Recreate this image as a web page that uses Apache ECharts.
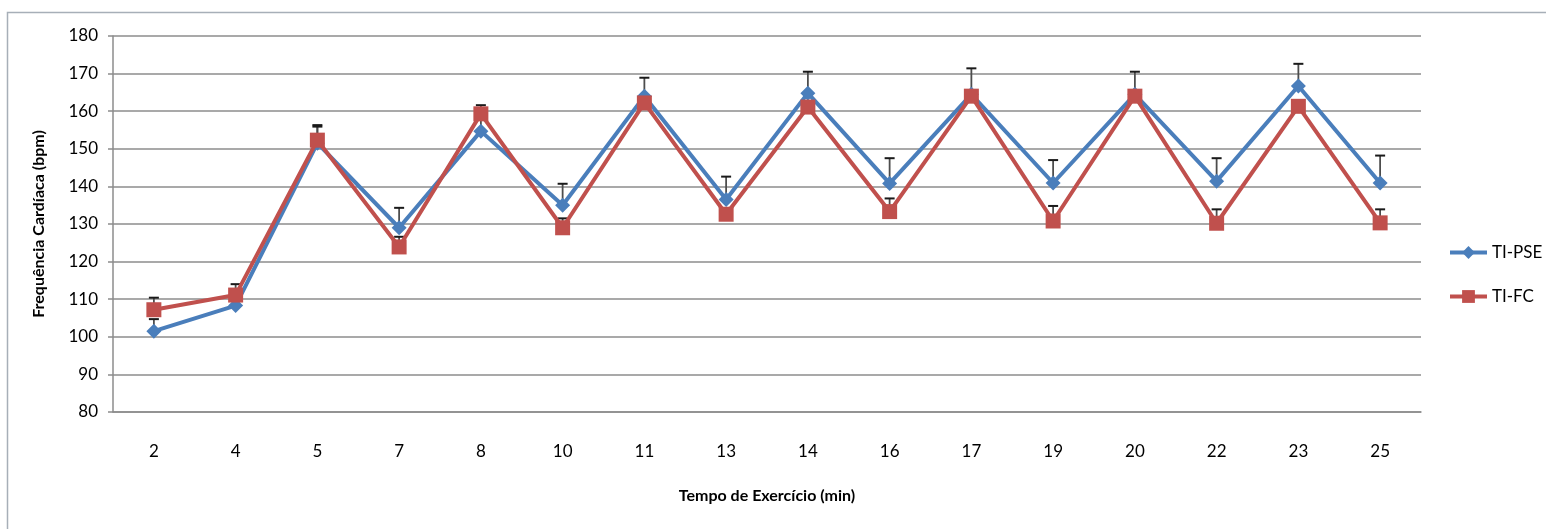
<!DOCTYPE html>
<html>
<head>
<meta charset="utf-8">
<script src="https://cdn.jsdelivr.net/npm/echarts@6/dist/echarts.min.js"></script>
<style>
  html, body { margin: 0; padding: 0; background: #fff; }
  #chart { width: 1546px; height: 529px; }
</style>
</head>
<body>
<div id="chart"></div>
<script>
// Exercise time (min) on the category axis
const categories = ['2', '4', '5', '7', '8', '10', '11', '13', '14', '16', '17', '19', '20', '22', '23', '25'];

// Mean heart rate (bpm) per protocol
const tiPse = [101.5, 108.3, 151.5, 129.0, 154.7, 135.0, 164.0, 136.5, 164.8, 140.8, 164.5, 140.9, 164.5, 141.4, 166.7, 140.9];
const tiFc  = [107.2, 111.1, 152.3, 123.9, 159.3, 129.0, 162.2, 132.6, 161.1, 133.3, 164.0, 130.8, 164.0, 130.2, 161.3, 130.3];

// Standard deviation (plus side only)
const tiPseSd = [3.2, 3.0, 4.8, 5.3, 3.0, 5.7, 4.9, 6.1, 5.7, 6.7, 6.9, 6.1, 6.0, 6.1, 5.9, 7.3];
const tiFcSd  = [3.2, 2.9, 3.6, 2.7, 2.3, 2.5, 1.5, 1.5, 1.5, 3.5, 1.5, 4.0, 1.5, 3.7, 1.5, 3.6];

const yTicks = { min: 80, max: 180, interval: 10 };

const BLUE = '#4a7ebb';
const RED = '#c0504d';
const FONT = "Lato, 'Open Sans', sans-serif";

function errorBarSeries(name, means, sds, z) {
  return {
    type: 'custom',
    name: name + ' SD',
    z: z,
    silent: true,
    data: means.map((m, i) => [i, m, m + sds[i]]),
    renderItem: function (params, api) {
      const base = api.coord([api.value(0), api.value(1)]);
      const top = api.coord([api.value(0), api.value(2)]);
      const half = 5;
      return {
        type: 'group',
        children: [
          { type: 'line', shape: { x1: base[0], y1: base[1], x2: top[0], y2: top[1] },
            style: { stroke: '#4d4d4d', lineWidth: 1.8 } },
          { type: 'line', shape: { x1: top[0] - half, y1: top[1], x2: top[0] + half, y2: top[1] },
            style: { stroke: '#1a1a1a', lineWidth: 2 } }
        ]
      };
    }
  };
}

const chart = echarts.init(document.getElementById('chart'), null, { renderer: 'canvas' });

chart.setOption({
  animation: false,
  backgroundColor: '#ffffff',
  textStyle: { fontFamily: FONT },
  graphic: [{
    type: 'rect',
    silent: true,
    z: -10,
    shape: { x: 7.5, y: 12.5, width: 1700, height: 700 },
    style: { fill: 'none', stroke: '#a7afb8', lineWidth: 1.5 }
  }],
  grid: { left: 113, right: 125, top: 36, bottom: 117, containLabel: false },
  legend: {
    orient: 'vertical',
    left: 1448,
    top: 244,
    padding: 0,
    itemWidth: 37,
    itemHeight: 16,
    itemGap: 27,
    data: ['TI-PSE', 'TI-FC'],
    lineStyle: { width: 4 },
    textStyle: { fontFamily: FONT, fontSize: 17, color: '#000' }
  },
  xAxis: {
    type: 'category',
    data: categories,
    boundaryGap: true,
    name: 'Tempo de Exercício (min)',
    nameLocation: 'middle',
    nameGap: 76,
    nameTextStyle: { fontFamily: FONT, fontSize: 16, fontWeight: 'bold', color: '#000' },
    axisLine: { lineStyle: { color: '#8c8c8c', width: 1.5 } },
    axisTick: { show: false },
    axisLabel: { margin: 31, fontFamily: FONT, fontSize: 17, color: '#000' }
  },
  yAxis: {
    type: 'value',
    min: yTicks.min,
    max: yTicks.max,
    interval: yTicks.interval,
    name: 'Frequência Cardíaca (bpm)',
    nameLocation: 'middle',
    nameGap: 66,
    nameTextStyle: { fontFamily: FONT, fontSize: 16, fontWeight: 'bold', color: '#000' },
    axisLine: { show: true, lineStyle: { color: '#8c8c8c', width: 1.5 } },
    axisTick: { show: true, length: 5, lineStyle: { color: '#8c8c8c', width: 1.5 } },
    axisLabel: { margin: 15, fontFamily: FONT, fontSize: 17, color: '#000' },
    splitLine: { show: true, lineStyle: { color: '#8c8c8c', width: 1.5 } }
  },
  series: [
    errorBarSeries('TI-PSE', tiPse, tiPseSd, 2),
    {
      name: 'TI-PSE',
      type: 'line',
      data: tiPse,
      z: 3,
      symbol: 'diamond',
      symbolSize: 15,
      lineStyle: { color: BLUE, width: 4 },
      itemStyle: { color: BLUE },
      emphasis: { disabled: true }
    },
    errorBarSeries('TI-FC', tiFc, tiFcSd, 4),
    {
      name: 'TI-FC',
      type: 'line',
      data: tiFc,
      z: 5,
      symbol: 'rect',
      symbolSize: 15,
      lineStyle: { color: RED, width: 4 },
      itemStyle: { color: RED },
      emphasis: { disabled: true }
    }
  ]
});
</script>
</body>
</html>
